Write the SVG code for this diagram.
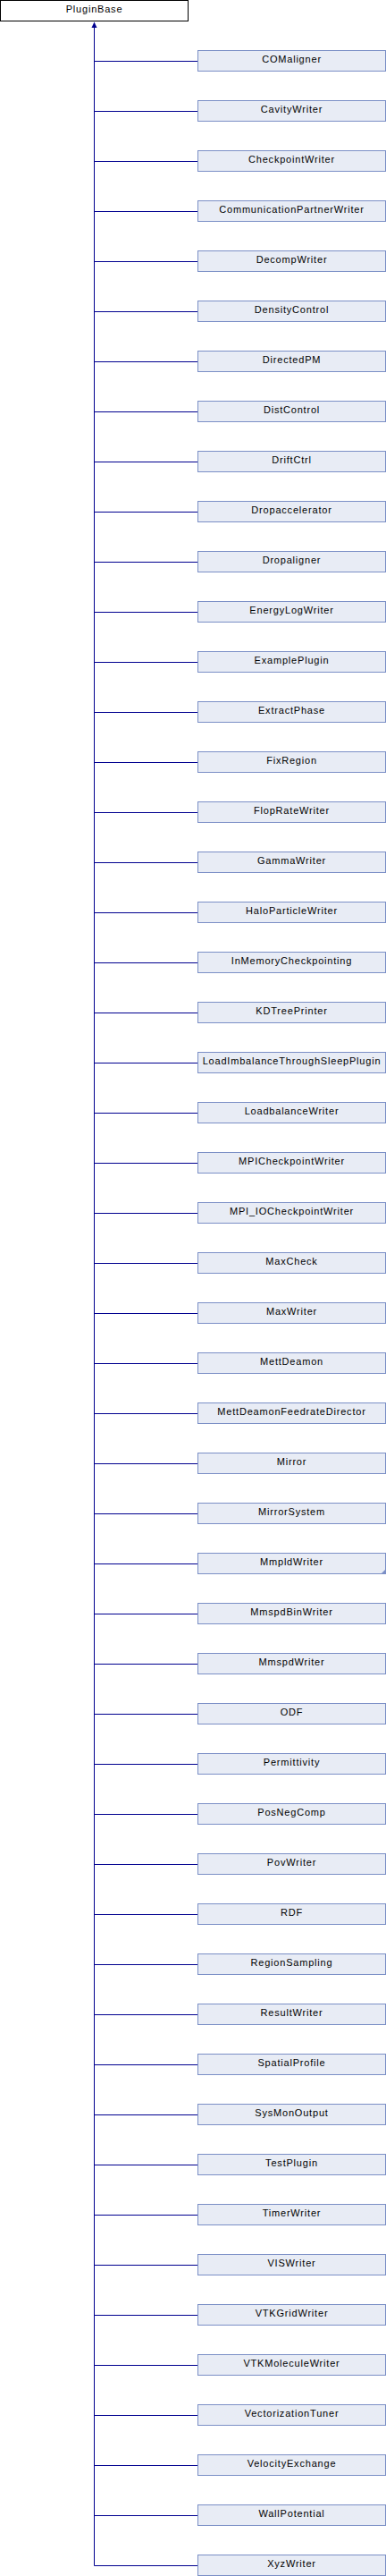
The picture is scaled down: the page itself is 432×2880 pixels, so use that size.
<svg xmlns="http://www.w3.org/2000/svg" width="432" height="2880" viewBox="0 0 432 2880">
<style>
.bg{fill:#ffffff}
.base rect{fill:#ffffff;stroke:#000000;stroke-width:1}
.node rect{fill:#e8ecf5;stroke:#7b8fc6;stroke-width:1}
text{font-family:"Liberation Sans",Arial,sans-serif;font-size:11px;letter-spacing:0.8px;fill:#000000;text-anchor:middle}
.edges line{stroke:#00008f;stroke-width:1;fill:none}
.edges polygon{fill:#00008f;stroke:none}
.fold{fill:#7b8fc6;stroke:none}
</style>
<rect class="bg" x="0" y="0" width="432" height="2880"/>
<g id="edges" class="edges">
<line x1="105.5" y1="27" x2="105.5" y2="2868.5"/>
<polygon points="105.5,24.5 102.5,31 108.5,31"/>
<line x1="105.5" y1="68.5" x2="221.5" y2="68.5"/>
<line x1="105.5" y1="124.5" x2="221.5" y2="124.5"/>
<line x1="105.5" y1="180.5" x2="221.5" y2="180.5"/>
<line x1="105.5" y1="236.5" x2="221.5" y2="236.5"/>
<line x1="105.5" y1="292.5" x2="221.5" y2="292.5"/>
<line x1="105.5" y1="348.5" x2="221.5" y2="348.5"/>
<line x1="105.5" y1="404.5" x2="221.5" y2="404.5"/>
<line x1="105.5" y1="460.5" x2="221.5" y2="460.5"/>
<line x1="105.5" y1="516.5" x2="221.5" y2="516.5"/>
<line x1="105.5" y1="572.5" x2="221.5" y2="572.5"/>
<line x1="105.5" y1="628.5" x2="221.5" y2="628.5"/>
<line x1="105.5" y1="684.5" x2="221.5" y2="684.5"/>
<line x1="105.5" y1="740.5" x2="221.5" y2="740.5"/>
<line x1="105.5" y1="796.5" x2="221.5" y2="796.5"/>
<line x1="105.5" y1="852.5" x2="221.5" y2="852.5"/>
<line x1="105.5" y1="908.5" x2="221.5" y2="908.5"/>
<line x1="105.5" y1="964.5" x2="221.5" y2="964.5"/>
<line x1="105.5" y1="1020.5" x2="221.5" y2="1020.5"/>
<line x1="105.5" y1="1076.5" x2="221.5" y2="1076.5"/>
<line x1="105.5" y1="1132.5" x2="221.5" y2="1132.5"/>
<line x1="105.5" y1="1188.5" x2="221.5" y2="1188.5"/>
<line x1="105.5" y1="1244.5" x2="221.5" y2="1244.5"/>
<line x1="105.5" y1="1300.5" x2="221.5" y2="1300.5"/>
<line x1="105.5" y1="1356.5" x2="221.5" y2="1356.5"/>
<line x1="105.5" y1="1412.5" x2="221.5" y2="1412.5"/>
<line x1="105.5" y1="1468.5" x2="221.5" y2="1468.5"/>
<line x1="105.5" y1="1524.5" x2="221.5" y2="1524.5"/>
<line x1="105.5" y1="1580.5" x2="221.5" y2="1580.5"/>
<line x1="105.5" y1="1636.5" x2="221.5" y2="1636.5"/>
<line x1="105.5" y1="1692.5" x2="221.5" y2="1692.5"/>
<line x1="105.5" y1="1748.5" x2="221.5" y2="1748.5"/>
<line x1="105.5" y1="1804.5" x2="221.5" y2="1804.5"/>
<line x1="105.5" y1="1860.5" x2="221.5" y2="1860.5"/>
<line x1="105.5" y1="1916.5" x2="221.5" y2="1916.5"/>
<line x1="105.5" y1="1972.5" x2="221.5" y2="1972.5"/>
<line x1="105.5" y1="2028.5" x2="221.5" y2="2028.5"/>
<line x1="105.5" y1="2084.5" x2="221.5" y2="2084.5"/>
<line x1="105.5" y1="2140.5" x2="221.5" y2="2140.5"/>
<line x1="105.5" y1="2196.5" x2="221.5" y2="2196.5"/>
<line x1="105.5" y1="2252.5" x2="221.5" y2="2252.5"/>
<line x1="105.5" y1="2308.5" x2="221.5" y2="2308.5"/>
<line x1="105.5" y1="2364.5" x2="221.5" y2="2364.5"/>
<line x1="105.5" y1="2420.5" x2="221.5" y2="2420.5"/>
<line x1="105.5" y1="2476.5" x2="221.5" y2="2476.5"/>
<line x1="105.5" y1="2532.5" x2="221.5" y2="2532.5"/>
<line x1="105.5" y1="2588.5" x2="221.5" y2="2588.5"/>
<line x1="105.5" y1="2644.5" x2="221.5" y2="2644.5"/>
<line x1="105.5" y1="2700.5" x2="221.5" y2="2700.5"/>
<line x1="105.5" y1="2756.5" x2="221.5" y2="2756.5"/>
<line x1="105.5" y1="2812.5" x2="221.5" y2="2812.5"/>
<line x1="105.5" y1="2868.5" x2="221.5" y2="2868.5"/>
</g>
<g id="PluginBase" class="base"><rect x="0.5" y="0.5" width="210" height="23"/><text x="105.5" y="14">PluginBase</text></g>
<g id="COMaligner" class="node"><rect x="221.5" y="56.5" width="210" height="23"/><text x="326.5" y="70">COMaligner</text></g>
<g id="CavityWriter" class="node"><rect x="221.5" y="112.5" width="210" height="23"/><text x="326.5" y="126">CavityWriter</text></g>
<g id="CheckpointWriter" class="node"><rect x="221.5" y="168.5" width="210" height="23"/><text x="326.5" y="182">CheckpointWriter</text></g>
<g id="CommunicationPartnerWriter" class="node"><rect x="221.5" y="224.5" width="210" height="23"/><text x="326.5" y="238">CommunicationPartnerWriter</text></g>
<g id="DecompWriter" class="node"><rect x="221.5" y="280.5" width="210" height="23"/><text x="326.5" y="294">DecompWriter</text></g>
<g id="DensityControl" class="node"><rect x="221.5" y="336.5" width="210" height="23"/><text x="326.5" y="350">DensityControl</text></g>
<g id="DirectedPM" class="node"><rect x="221.5" y="392.5" width="210" height="23"/><text x="326.5" y="406">DirectedPM</text></g>
<g id="DistControl" class="node"><rect x="221.5" y="448.5" width="210" height="23"/><text x="326.5" y="462">DistControl</text></g>
<g id="DriftCtrl" class="node"><rect x="221.5" y="504.5" width="210" height="23"/><text x="326.5" y="518">DriftCtrl</text></g>
<g id="Dropaccelerator" class="node"><rect x="221.5" y="560.5" width="210" height="23"/><text x="326.5" y="574">Dropaccelerator</text></g>
<g id="Dropaligner" class="node"><rect x="221.5" y="616.5" width="210" height="23"/><text x="326.5" y="630">Dropaligner</text></g>
<g id="EnergyLogWriter" class="node"><rect x="221.5" y="672.5" width="210" height="23"/><text x="326.5" y="686">EnergyLogWriter</text></g>
<g id="ExamplePlugin" class="node"><rect x="221.5" y="728.5" width="210" height="23"/><text x="326.5" y="742">ExamplePlugin</text></g>
<g id="ExtractPhase" class="node"><rect x="221.5" y="784.5" width="210" height="23"/><text x="326.5" y="798">ExtractPhase</text></g>
<g id="FixRegion" class="node"><rect x="221.5" y="840.5" width="210" height="23"/><text x="326.5" y="854">FixRegion</text></g>
<g id="FlopRateWriter" class="node"><rect x="221.5" y="896.5" width="210" height="23"/><text x="326.5" y="910">FlopRateWriter</text></g>
<g id="GammaWriter" class="node"><rect x="221.5" y="952.5" width="210" height="23"/><text x="326.5" y="966">GammaWriter</text></g>
<g id="HaloParticleWriter" class="node"><rect x="221.5" y="1008.5" width="210" height="23"/><text x="326.5" y="1022">HaloParticleWriter</text></g>
<g id="InMemoryCheckpointing" class="node"><rect x="221.5" y="1064.5" width="210" height="23"/><text x="326.5" y="1078">InMemoryCheckpointing</text></g>
<g id="KDTreePrinter" class="node"><rect x="221.5" y="1120.5" width="210" height="23"/><text x="326.5" y="1134">KDTreePrinter</text></g>
<g id="LoadImbalanceThroughSleepPlugin" class="node"><rect x="221.5" y="1176.5" width="210" height="23"/><text x="326.5" y="1190">LoadImbalanceThroughSleepPlugin</text></g>
<g id="LoadbalanceWriter" class="node"><rect x="221.5" y="1232.5" width="210" height="23"/><text x="326.5" y="1246">LoadbalanceWriter</text></g>
<g id="MPICheckpointWriter" class="node"><rect x="221.5" y="1288.5" width="210" height="23"/><text x="326.5" y="1302">MPICheckpointWriter</text></g>
<g id="MPI_IOCheckpointWriter" class="node"><rect x="221.5" y="1344.5" width="210" height="23"/><text x="326.5" y="1358">MPI_IOCheckpointWriter</text></g>
<g id="MaxCheck" class="node"><rect x="221.5" y="1400.5" width="210" height="23"/><text x="326.5" y="1414">MaxCheck</text></g>
<g id="MaxWriter" class="node"><rect x="221.5" y="1456.5" width="210" height="23"/><text x="326.5" y="1470">MaxWriter</text></g>
<g id="MettDeamon" class="node"><rect x="221.5" y="1512.5" width="210" height="23"/><text x="326.5" y="1526">MettDeamon</text></g>
<g id="MettDeamonFeedrateDirector" class="node"><rect x="221.5" y="1568.5" width="210" height="23"/><text x="326.5" y="1582">MettDeamonFeedrateDirector</text></g>
<g id="Mirror" class="node"><rect x="221.5" y="1624.5" width="210" height="23"/><text x="326.5" y="1638">Mirror</text></g>
<g id="MirrorSystem" class="node"><rect x="221.5" y="1680.5" width="210" height="23"/><text x="326.5" y="1694">MirrorSystem</text></g>
<g id="MmpldWriter" class="node"><rect x="221.5" y="1736.5" width="210" height="23"/><polygon class="fold" points="432,1754 432,1760 426,1760"/><text x="326.5" y="1750">MmpldWriter</text></g>
<g id="MmspdBinWriter" class="node"><rect x="221.5" y="1792.5" width="210" height="23"/><text x="326.5" y="1806">MmspdBinWriter</text></g>
<g id="MmspdWriter" class="node"><rect x="221.5" y="1848.5" width="210" height="23"/><text x="326.5" y="1862">MmspdWriter</text></g>
<g id="ODF" class="node"><rect x="221.5" y="1904.5" width="210" height="23"/><text x="326.5" y="1918">ODF</text></g>
<g id="Permittivity" class="node"><rect x="221.5" y="1960.5" width="210" height="23"/><text x="326.5" y="1974">Permittivity</text></g>
<g id="PosNegComp" class="node"><rect x="221.5" y="2016.5" width="210" height="23"/><text x="326.5" y="2030">PosNegComp</text></g>
<g id="PovWriter" class="node"><rect x="221.5" y="2072.5" width="210" height="23"/><text x="326.5" y="2086">PovWriter</text></g>
<g id="RDF" class="node"><rect x="221.5" y="2128.5" width="210" height="23"/><text x="326.5" y="2142">RDF</text></g>
<g id="RegionSampling" class="node"><rect x="221.5" y="2184.5" width="210" height="23"/><text x="326.5" y="2198">RegionSampling</text></g>
<g id="ResultWriter" class="node"><rect x="221.5" y="2240.5" width="210" height="23"/><text x="326.5" y="2254">ResultWriter</text></g>
<g id="SpatialProfile" class="node"><rect x="221.5" y="2296.5" width="210" height="23"/><text x="326.5" y="2310">SpatialProfile</text></g>
<g id="SysMonOutput" class="node"><rect x="221.5" y="2352.5" width="210" height="23"/><text x="326.5" y="2366">SysMonOutput</text></g>
<g id="TestPlugin" class="node"><rect x="221.5" y="2408.5" width="210" height="23"/><text x="326.5" y="2422">TestPlugin</text></g>
<g id="TimerWriter" class="node"><rect x="221.5" y="2464.5" width="210" height="23"/><text x="326.5" y="2478">TimerWriter</text></g>
<g id="VISWriter" class="node"><rect x="221.5" y="2520.5" width="210" height="23"/><text x="326.5" y="2534">VISWriter</text></g>
<g id="VTKGridWriter" class="node"><rect x="221.5" y="2576.5" width="210" height="23"/><text x="326.5" y="2590">VTKGridWriter</text></g>
<g id="VTKMoleculeWriter" class="node"><rect x="221.5" y="2632.5" width="210" height="23"/><text x="326.5" y="2646">VTKMoleculeWriter</text></g>
<g id="VectorizationTuner" class="node"><rect x="221.5" y="2688.5" width="210" height="23"/><text x="326.5" y="2702">VectorizationTuner</text></g>
<g id="VelocityExchange" class="node"><rect x="221.5" y="2744.5" width="210" height="23"/><text x="326.5" y="2758">VelocityExchange</text></g>
<g id="WallPotential" class="node"><rect x="221.5" y="2800.5" width="210" height="23"/><text x="326.5" y="2814">WallPotential</text></g>
<g id="XyzWriter" class="node"><rect x="221.5" y="2856.5" width="210" height="23"/><text x="326.5" y="2870">XyzWriter</text></g>
</svg>
